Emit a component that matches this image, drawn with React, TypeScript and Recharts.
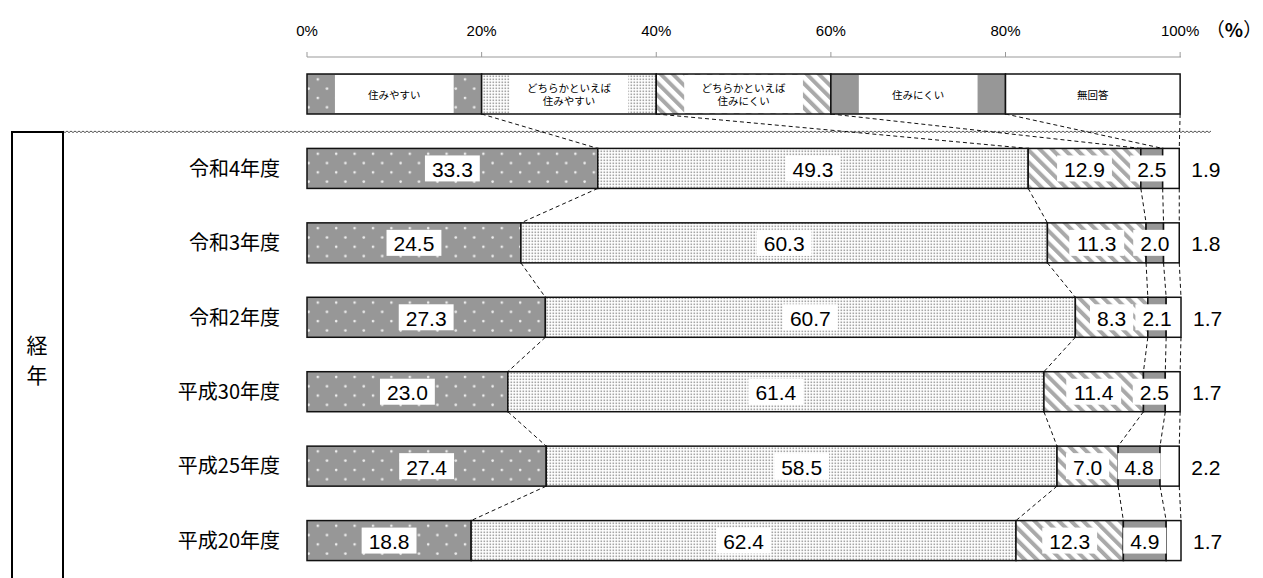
import { BarChart, Bar, XAxis, YAxis } from 'recharts'

// 住みやすさの経年比較（%）
const CATEGORIES = ['令和4年度', '令和3年度', '令和2年度', '平成30年度', '平成25年度', '平成20年度']
const SUMIYASUI = [33.3, 24.5, 27.3, 23.0, 27.4, 18.8]
const DOCHIRA_YASUI = [49.3, 60.3, 60.7, 61.4, 58.5, 62.4]
const DOCHIRA_NIKUI = [12.9, 11.3, 8.3, 11.4, 7.0, 12.3]
const SUMINIKUI = [2.5, 2.0, 2.1, 2.5, 4.8, 4.9]
const MUKAITO = [1.9, 1.8, 1.7, 1.7, 2.2, 1.7]

const LEGEND_LABELS = [
  ['住みやすい'],
  ['どちらかといえば', '住みやすい'],
  ['どちらかといえば', '住みにくい'],
  ['住みにくい'],
  ['無回答'],
]
const LEGEND_SHARE = [20, 20, 20, 20, 20]
const X_TICKS = [0, 20, 40, 60, 80, 100]

const KEYS = ['s0', 's1', 's2', 's3', 's4']
const FILLS = ['url(#pDots)', 'url(#pFine)', 'url(#pStripe)', '#979797', '#ffffff']

const W = 1263
const H = 578
const MARGIN = { top: 27, right: 82, bottom: 0, left: 0 }
const XAXIS_H = 30
const BAR = 40

const data: any[] = [
  { name: '', legend: true, ...Object.fromEntries(KEYS.map((k, i) => [k, LEGEND_SHARE[i]])) },
  ...CATEGORIES.map((name, i) => ({
    name,
    s0: SUMIYASUI[i],
    s1: DOCHIRA_YASUI[i],
    s2: DOCHIRA_NIKUI[i],
    s3: SUMINIKUI[i],
    s4: MUKAITO[i],
  })),
]

const PITCH = (H - MARGIN.top - MARGIN.bottom - XAXIS_H) / data.length

const JP = '"Noto Sans CJK JP", sans-serif'
const NUM = '"Liberation Sans", Arial, sans-serif'
const LABEL_FS = 21

const cumTo = (row: any, k: number) => KEYS.slice(0, k + 1).reduce((s, key) => s + row[key], 0)

const textW = (s: string, fs: number) =>
  s.split('').reduce((w, c) => w + (c === '.' ? 0.278 : 0.556) * fs, 0)

function makeShape(k: number) {
  return (props: any) => {
    const { x, y, width, height, index, payload } = props
    const v = payload[KEYS[k]]
    const ppu = width / v
    const originX = x - (cumTo(payload, k) - v) * ppu
    const next = data[index + 1]
    const cy = y + height / 2

    const labels: any[] = []
    if (k === KEYS.length - 1) {
      KEYS.forEach((key, j) => {
        const segX = originX + (cumTo(payload, j) - payload[key]) * ppu
        const segW = payload[key] * ppu
        const cx = segX + segW / 2
        if (payload.legend) {
          const lines = LEGEND_LABELS[j]
          const inset = segW * 0.16
          labels.push(
            <g key={'lg' + j}>
              <rect x={segX + inset} y={y + 1} width={segW - inset * 2} height={height - 2} fill="#fff" />
              {lines.map((t, li) => (
                <text
                  key={li}
                  x={cx}
                  y={cy + (li - (lines.length - 1) / 2) * 12.5}
                  textAnchor="middle"
                  dominantBaseline="central"
                  fontSize={10.5}
                  fontFamily={JP}
                  fill="#000"
                >
                  {t}
                </text>
              ))}
            </g>
          )
        } else if (j === KEYS.length - 1) {
          labels.push(
            <text key={'v' + j} x={segX + segW + 12} y={cy + 1} dominantBaseline="central"
              fontSize={LABEL_FS} fontFamily={NUM} fill="#000">
              {payload[key].toFixed(1)}
            </text>
          )
        } else {
          const s = payload[key].toFixed(1)
          const tw = textW(s, LABEL_FS)
          labels.push(
            <g key={'v' + j}>
              <rect x={cx - tw / 2 - 7} y={cy - 13} width={tw + 14} height={26} fill="#fff" />
              <text x={cx} y={cy + 1} textAnchor="middle" dominantBaseline="central"
                fontSize={LABEL_FS} fontFamily={NUM} fill="#000">
                {s}
              </text>
            </g>
          )
        }
      })
    }

    return (
      <g>
        <rect x={x} y={y} width={width} height={height} fill={FILLS[k]} stroke="#111" strokeWidth={1.5} />
        {next && (
          <line
            x1={x + width}
            y1={y + height}
            x2={originX + cumTo(next, k) * ppu}
            y2={y + PITCH}
            stroke="#111"
            strokeWidth={1}
            strokeDasharray="4 3"
          />
        )}
        {labels}
      </g>
    )
  }
}

function wavyPath(x0: number, x1: number, y: number) {
  let d = `M${x0},${y}`
  for (let x = x0, i = 0; x < x1; x += 2, i++) d += ` L${x + 2},${y + (i % 2 ? 0 : 1.6)}`
  return d
}

export default function App() {
  return (
    <div style={{ position: 'absolute', left: 0, top: 0, background: '#fff' }}>
      <BarChart width={W} height={H} data={data} layout="vertical" margin={MARGIN} barSize={BAR}>
        <defs>
          <pattern id="pDots" width="18.4" height="18.6" patternUnits="userSpaceOnUse">
            <rect width="18.4" height="18.6" fill="#979797" />
            <circle cx="5" cy="5" r="1.3" fill="#eeeeee" />
            <circle cx="14.2" cy="14.3" r="1.3" fill="#eeeeee" />
          </pattern>
          <pattern id="pFine" width="3" height="3" patternUnits="userSpaceOnUse">
            <rect width="3" height="3" fill="#ffffff" />
            <rect x="0.5" y="0.5" width="1.6" height="1.6" fill="#a6a6a6" />
          </pattern>
          <pattern id="pStripe" width="8.6" height="8.6" patternUnits="userSpaceOnUse" patternTransform="rotate(-45)">
            <rect width="8.6" height="8.6" fill="#ffffff" />
            <rect width="4" height="8.6" fill="#a9a9a9" />
          </pattern>
        </defs>

        <XAxis
          type="number"
          orientation="top"
          domain={[0, 100]}
          ticks={X_TICKS}
          tickFormatter={(v) => `${v}%`}
          height={XAXIS_H}
          axisLine={{ stroke: '#999' }}
          tickLine={{ stroke: '#999' }}
          tickSize={5}
          tickMargin={16}
          tick={{ fontSize: 15, fontFamily: NUM, fill: '#000' }}
        />
        <YAxis
          type="category"
          dataKey="name"
          width={307}
          axisLine={false}
          tickLine={false}
          tickSize={0}
          tickMargin={27}
          tick={{ fontSize: 20, fontFamily: JP, fill: '#000' }}
        />

        {KEYS.map((key, k) => (
          <Bar key={key} dataKey={key} stackId="a" isAnimationActive={false} shape={makeShape(k)} />
        ))}

        <g>
          <text x={1234} y={28} textAnchor="middle" dominantBaseline="central" fontSize={19} fontFamily={JP} fill="#000">
            （<tspan fontWeight="bold">%</tspan>）
          </text>
          <path d={wavyPath(63, 1210, 131)} fill="none" stroke="#555" strokeWidth={1} />
          <line x1={12} y1={132} x2={63} y2={132} stroke="#000" strokeWidth={2} />
          <line x1={12} y1={131} x2={12} y2={H} stroke="#000" strokeWidth={2} />
          <line x1={63} y1={131} x2={63} y2={H} stroke="#000" strokeWidth={2} />
          <text x={37} y={344} textAnchor="middle" dominantBaseline="central" fontSize={21} fontFamily={JP} fill="#000">経</text>
          <text x={37} y={374} textAnchor="middle" dominantBaseline="central" fontSize={21} fontFamily={JP} fill="#000">年</text>
        </g>
      </BarChart>
    </div>
  )
}
